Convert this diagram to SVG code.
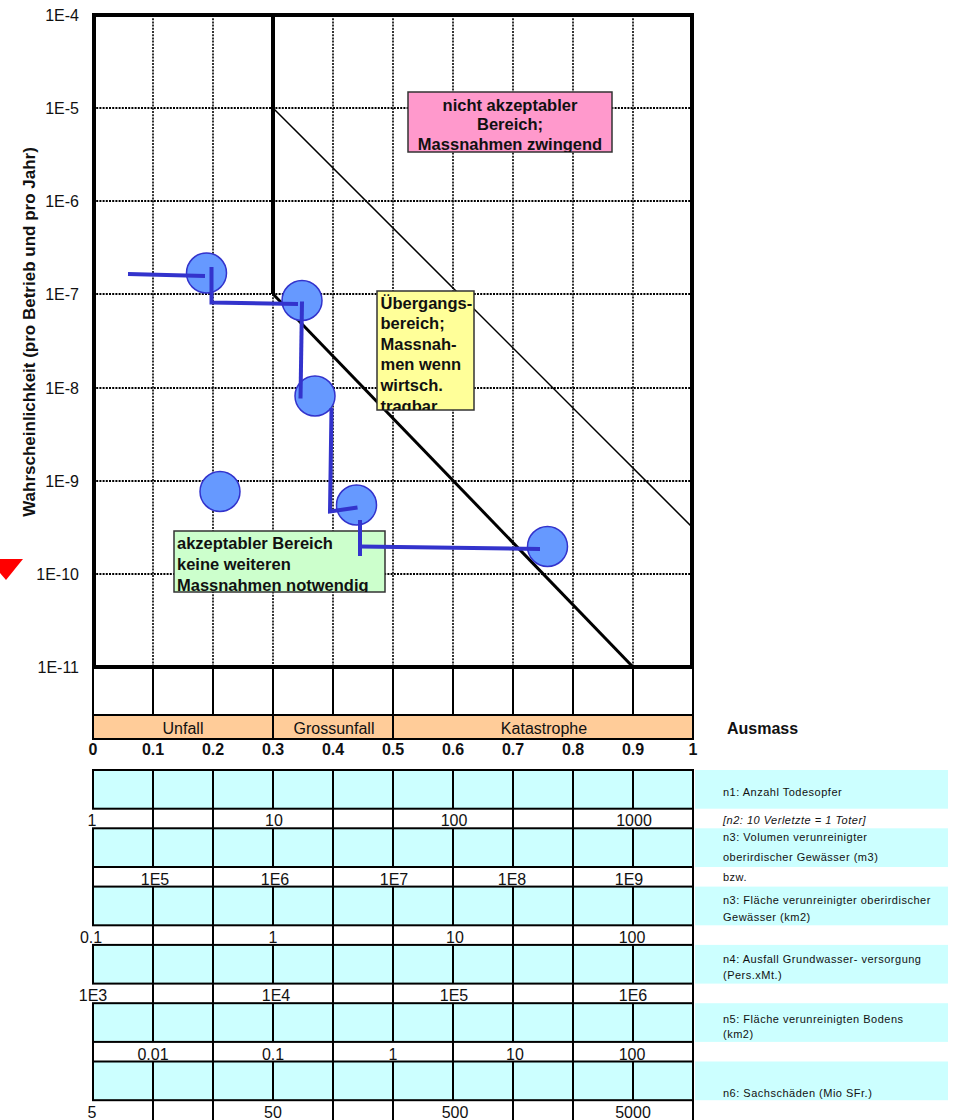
<svg xmlns="http://www.w3.org/2000/svg" width="955" height="1120" viewBox="0 0 955 1120">
  <style>
    text { font-family: "Liberation Sans", Arial, sans-serif; fill: #111; }
    .tick { font-size: 16px; }
    .tickb { font-size: 16px; font-weight: bold; }
    .lbl { font-size: 16.5px; font-weight: bold; }
    .side { font-size: 11px; letter-spacing: 0.5px; fill: #222; }
    .gh { stroke: #000; stroke-width: 2; stroke-dasharray: 2 1.2; fill: none; }
    .gv { stroke: #000; stroke-width: 1.6; stroke-dasharray: 2 1.2; fill: none; }
    .cellline { stroke: #000; stroke-width: 2; fill: none; }
    .cyan { fill: #CCFFFF; stroke: #000; stroke-width: 2; }
    .panel { fill: #CCFFFF; }
    .box { stroke: #333; stroke-width: 1.5; }
    .pt { fill: #6699FF; stroke: #3333CC; stroke-width: 1.5; }
    .path { stroke: #3333CC; stroke-width: 4; fill: none; }
  </style>
  <defs>
    <clipPath id="clipPink"><rect x="408" y="92" width="204" height="60"/></clipPath>
    <clipPath id="clipYellow"><rect x="377" y="291" width="97" height="119"/></clipPath>
    <clipPath id="clipGreen"><rect x="174" y="531" width="211" height="61"/></clipPath>
  </defs>

  <rect width="955" height="1120" fill="#fff"/>

  <!-- marker triangle at the left edge -->
  <polygon id="marker" points="-12,559 23,559 6,580" fill="#FF0000"/>

  <!-- grid of the risk chart -->
  <g id="grid">
    <path class="gh" d="M93 108H693 M93 201H693 M93 294H693 M93 388H693 M93 481H693 M93 574H693"/>
    <path class="gv" d="M153 15V667 M213 15V667 M273 294V667 M333 15V667 M393 15V667 M453 15V667 M513 15V667 M573 15V667 M633 15V667"/>
  </g>

  <!-- boundary lines between the regions -->
  <g id="limits">
    <path d="M273 15V294" stroke="#000" stroke-width="4" fill="none"/>
    <path d="M273 108L693 528" stroke="#000" stroke-width="1.5" fill="none"/>
    <path d="M273 294L633 667" stroke="#000" stroke-width="3" fill="none"/>
  </g>

  <!-- plot frame -->
  <rect id="frame" x="94" y="15" width="598" height="652" fill="none" stroke="#000" stroke-width="4"/>

  <!-- y axis -->
  <g id="yaxis" class="tick" text-anchor="end">
    <text x="79" y="20.5">1E-4</text>
    <text x="79" y="113.5">1E-5</text>
    <text x="79" y="206.5">1E-6</text>
    <text x="79" y="299.5">1E-7</text>
    <text x="79" y="393.5">1E-8</text>
    <text x="79" y="486.5">1E-9</text>
    <text x="79" y="579.5">1E-10</text>
    <text x="79" y="672.5">1E-11</text>
  </g>
  <text id="ytitle" transform="translate(35,332) rotate(-90)" text-anchor="middle" style="font-size:17px;font-weight:bold">Wahrscheinlichkeit (pro Betrieb und pro Jahr)</text>

  <!-- region labels -->
  <g id="region-red">
    <rect class="box" x="408" y="92" width="204" height="60" fill="#FF99CC"/>
    <g clip-path="url(#clipPink)" class="lbl" text-anchor="middle">
      <text x="510" y="110.5">nicht akzeptabler</text>
      <text x="510" y="130">Bereich;</text>
      <text x="510" y="150">Massnahmen zwingend</text>
    </g>
  </g>
  <g id="region-yellow">
    <rect class="box" x="377" y="291" width="97" height="119" fill="#FFFF99"/>
    <g clip-path="url(#clipYellow)" class="lbl">
      <text x="380.5" y="308.5">Übergangs-</text>
      <text x="380.5" y="329">bereich;</text>
      <text x="380.5" y="349.5">Massnah-</text>
      <text x="380.5" y="370">men wenn</text>
      <text x="380.5" y="390.5">wirtsch.</text>
      <text x="380.5" y="411.5">tragbar</text>
    </g>
  </g>
  <g id="region-green">
    <rect class="box" x="174" y="531" width="211" height="61" fill="#CCFFCC"/>
    <g clip-path="url(#clipGreen)" class="lbl">
      <text x="177" y="549">akzeptabler Bereich</text>
      <text x="177" y="570">keine weiteren</text>
      <text x="177" y="591">Massnahmen notwendig</text>
    </g>
  </g>

  <!-- data points -->
  <g id="points">
    <circle class="pt" cx="206.5" cy="273" r="20"/>
    <circle class="pt" cx="302" cy="300.5" r="20"/>
    <circle class="pt" cx="315" cy="396" r="20"/>
    <circle class="pt" cx="220" cy="491.5" r="20"/>
    <circle class="pt" cx="356.5" cy="505" r="20"/>
    <circle class="pt" cx="547.5" cy="546.5" r="20"/>
  </g>

  <!-- connectors between the points -->
  <g id="connectors" class="path">
    <path d="M128 274L205 276"/>
    <path d="M211.5 267V302.5L298 304"/>
    <path d="M302 301.5L300.5 398.5"/>
    <path d="M331.5 408L330 511.5L357.5 507.5"/>
    <path d="M360 520V556"/>
    <path d="M360 546.5L540 549"/>
  </g>

  <!-- scale of extent below the chart -->
  <g id="scale">
    <path class="cellline" d="M93 667V739 M153 667V715 M213 667V715 M273 667V739 M333 667V715 M393 667V739 M453 667V715 M513 667V715 M573 667V715 M633 667V715 M693 667V739"/>
    <rect x="93" y="715" width="600" height="24" fill="#FFCC99" stroke="#000" stroke-width="2"/>
    <path class="cellline" d="M273 715V739 M393 715V739"/>
    <g class="tick" text-anchor="middle" style="fill:#222">
      <text x="183" y="734">Unfall</text>
      <text x="334" y="734">Grossunfall</text>
      <text x="544" y="734">Katastrophe</text>
    </g>
    <g class="tickb" text-anchor="middle">
      <text x="93" y="755">0</text>
      <text x="153" y="755">0.1</text>
      <text x="213" y="755">0.2</text>
      <text x="273" y="755">0.3</text>
      <text x="333" y="755">0.4</text>
      <text x="393" y="755">0.5</text>
      <text x="453" y="755">0.6</text>
      <text x="513" y="755">0.7</text>
      <text x="573" y="755">0.8</text>
      <text x="633" y="755">0.9</text>
      <text x="693" y="755">1</text>
    </g>
    <text class="tickb" x="727" y="734">Ausmass</text>
  </g>

  <!-- conversion table -->
  <g id="table">
    <rect class="cyan" x="93" y="770" width="600" height="38.7"/>
    <rect class="cyan" x="93" y="828.3" width="600" height="38.7"/>
    <rect class="cyan" x="93" y="886.6" width="600" height="38.7"/>
    <rect class="cyan" x="93" y="944.9" width="600" height="38.7"/>
    <rect class="cyan" x="93" y="1003.2" width="600" height="38.7"/>
    <rect class="cyan" x="93" y="1061.5" width="600" height="38.7"/>
    <!-- cell dividers in the coloured rows -->
    <path class="cellline" d="M153 770V808.7 M213 770V808.7 M273 770V808.7 M333 770V808.7 M393 770V808.7 M453 770V808.7 M513 770V808.7 M573 770V808.7 M633 770V808.7
      M153 828.3V867 M213 828.3V867 M273 828.3V867 M333 828.3V867 M393 828.3V867 M453 828.3V867 M513 828.3V867 M573 828.3V867 M633 828.3V867
      M153 886.6V925.3 M213 886.6V925.3 M273 886.6V925.3 M333 886.6V925.3 M393 886.6V925.3 M453 886.6V925.3 M513 886.6V925.3 M573 886.6V925.3 M633 886.6V925.3
      M153 944.9V983.6 M213 944.9V983.6 M273 944.9V983.6 M333 944.9V983.6 M393 944.9V983.6 M453 944.9V983.6 M513 944.9V983.6 M573 944.9V983.6 M633 944.9V983.6
      M153 1003.2V1041.9 M213 1003.2V1041.9 M273 1003.2V1041.9 M333 1003.2V1041.9 M393 1003.2V1041.9 M453 1003.2V1041.9 M513 1003.2V1041.9 M573 1003.2V1041.9 M633 1003.2V1041.9
      M153 1061.5V1100.2 M213 1061.5V1100.2 M273 1061.5V1100.2 M333 1061.5V1100.2 M393 1061.5V1100.2 M453 1061.5V1100.2 M513 1061.5V1100.2 M573 1061.5V1100.2 M633 1061.5V1100.2"/>
    <!-- dividers in the value rows -->
    <path class="cellline" d="M153 808.7V828.3 M213 808.7V828.3 M333 808.7V828.3 M393 808.7V828.3 M513 808.7V828.3 M573 808.7V828.3 M693 808.7V828.3
      M93 867V886.6 M213 867V886.6 M333 867V886.6 M453 867V886.6 M573 867V886.6 M693 867V886.6
      M153 925.3V944.9 M213 925.3V944.9 M333 925.3V944.9 M393 925.3V944.9 M513 925.3V944.9 M573 925.3V944.9 M693 925.3V944.9
      M153 983.6V1003.2 M213 983.6V1003.2 M333 983.6V1003.2 M393 983.6V1003.2 M513 983.6V1003.2 M573 983.6V1003.2 M693 983.6V1003.2
      M93 1041.9V1061.5 M213 1041.9V1061.5 M333 1041.9V1061.5 M453 1041.9V1061.5 M573 1041.9V1061.5 M693 1041.9V1061.5
      M153 1100.2V1120 M213 1100.2V1120 M333 1100.2V1120 M393 1100.2V1120 M513 1100.2V1120 M573 1100.2V1120 M693 1100.2V1120"/>
    <g class="tick" text-anchor="middle">
      <text x="92" y="826.3">1</text>
      <text x="274" y="826.3">10</text>
      <text x="454" y="826.3">100</text>
      <text x="634" y="826.3">1000</text>

      <text x="155" y="884.6">1E5</text>
      <text x="275" y="884.6">1E6</text>
      <text x="394" y="884.6">1E7</text>
      <text x="512" y="884.6">1E8</text>
      <text x="629" y="884.6">1E9</text>

      <text x="91" y="942.9">0.1</text>
      <text x="273" y="942.9">1</text>
      <text x="455" y="942.9">10</text>
      <text x="632" y="942.9">100</text>

      <text x="93" y="1001.2">1E3</text>
      <text x="276" y="1001.2">1E4</text>
      <text x="454" y="1001.2">1E5</text>
      <text x="633" y="1001.2">1E6</text>

      <text x="153" y="1059.5">0.01</text>
      <text x="273" y="1059.5">0.1</text>
      <text x="393" y="1059.5">1</text>
      <text x="515" y="1059.5">10</text>
      <text x="632" y="1059.5">100</text>

      <text x="92" y="1118">5</text>
      <text x="273" y="1118">50</text>
      <text x="455" y="1118">500</text>
      <text x="633" y="1118">5000</text>
    </g>
  </g>

  <!-- legend of the scale rows -->
  <g id="legend">
    <rect class="panel" x="695" y="770" width="253" height="38.7"/>
    <rect class="panel" x="695" y="828.3" width="253" height="38.7"/>
    <rect class="panel" x="695" y="886.6" width="253" height="38.7"/>
    <rect class="panel" x="695" y="944.9" width="253" height="38.7"/>
    <rect class="panel" x="695" y="1003.2" width="253" height="38.7"/>
    <rect class="panel" x="695" y="1061.5" width="253" height="38.7"/>
    <g class="side">
      <text x="723" y="796">n1: Anzahl Todesopfer</text>
      <text x="723" y="824" font-style="italic">[n2: 10 Verletzte = 1 Toter]</text>
      <text x="723" y="841">n3: Volumen verunreinigter</text>
      <text x="723" y="860.5">oberirdischer Gewässer (m3)</text>
      <text x="723" y="881">bzw.</text>
      <text x="723" y="904">n3: Fläche verunreinigter oberirdischer</text>
      <text x="723" y="920.5">Gewässer (km2)</text>
      <text x="723" y="963">n4: Ausfall Grundwasser- versorgung</text>
      <text x="723" y="979">(Pers.xMt.)</text>
      <text x="723" y="1023">n5: Fläche verunreinigten Bodens</text>
      <text x="723" y="1038">(km2)</text>
      <text x="723" y="1097">n6: Sachschäden (Mio SFr.)</text>
    </g>
  </g>
</svg>
